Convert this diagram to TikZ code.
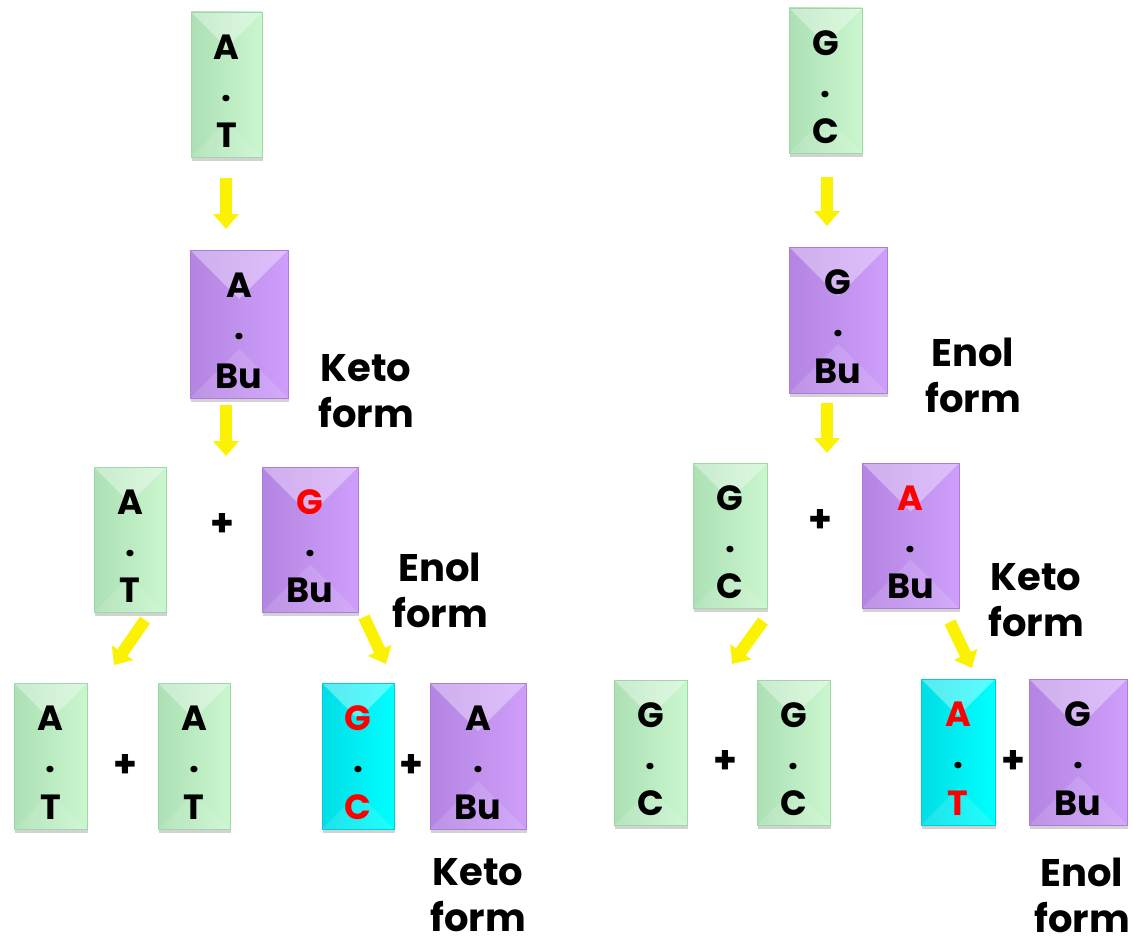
\documentclass[tikz,border=0pt]{standalone}
\usepackage{fontspec}
\setmainfont{Poppins}
\usetikzlibrary{calc,shadows,arrows.meta}
\definecolor{gL}{RGB}{172,224,180}
\definecolor{gR}{RGB}{202,246,206}
\definecolor{gB}{RGB}{160,214,168}
\definecolor{pL}{RGB}{180,132,226}
\definecolor{pR}{RGB}{206,158,250}
\definecolor{pB}{RGB}{172,124,216}
\definecolor{cL}{RGB}{0,222,230}
\definecolor{cR}{RGB}{0,255,255}
\definecolor{cB}{RGB}{0,205,215}
\definecolor{yel}{RGB}{250,242,0}
\definecolor{red1}{RGB}{255,0,0}
\tikzset{
  basebox/.style={inner sep=0pt, line width=0.8pt,
    drop shadow={shadow xshift=1pt, shadow yshift=-4pt, opacity=0.35},
    path picture={
      \fill[white,opacity=0.35] (path picture bounding box.north west) -- (path picture bounding box.north east)
        -- ($(path picture bounding box.north west)!0.7071!-45:(path picture bounding box.north east)$) -- cycle;
      \fill[white,opacity=0.12] (path picture bounding box.south west) -- (path picture bounding box.south east)
        -- ($(path picture bounding box.south west)!0.7071!45:(path picture bounding box.south east)$) -- cycle;
    }},
  greenbox/.style={basebox, draw=gB, left color=gL, right color=gR},
  purplebox/.style={basebox, draw=pB, left color=pL, right color=pR},
  cyanbox/.style={basebox, draw=cB, left color=cL, right color=cR},
  boxtxt/.style={inner sep=0pt, font=\fontsize{35}{40}\selectfont\bfseries},
  plus/.style={inner sep=0pt, font=\fontsize{38}{42}\selectfont\bfseries},
  lbl/.style={inner sep=0pt, align=center, font=\fontsize{38.5}{46}\selectfont\bfseries},
  yarrow/.style={line width=12pt, draw=yel, -{Triangle[length=15pt,width=25pt]}},
}
\newcommand\dnabox[8]{%
  \node[#2, minimum width={(#5-#3)*1pt}, minimum height={(#6-#4)*1pt}] (#1) at ({(#3+#5)/2},{(#4+#6)/2}) {};
  \node[boxtxt] (#1t) at ($(#1.north)+(0,36)$) {#7};
  \node[boxtxt] (#1d) at ($(#1.north)+(0,87)$) {.};
  \node[boxtxt] (#1b) at ($(#1.south)+(0,-22)$) {#8};
}
\begin{document}
\begin{tikzpicture}[x=1pt,y=-1pt]
\fill[white] (0,0) rectangle (1133,947);
\useasboundingbox (0,0) rectangle (1133,947);
% left tree
\dnabox{b1}{greenbox}{191}{12}{262}{157}{A}{T}
\dnabox{b2}{purplebox}{190}{250}{288}{398}{A}{Bu}
\dnabox{b3}{greenbox}{94}{467}{166}{612}{A}{T}
\dnabox{b4}{purplebox}{262}{467}{358}{612}{\textcolor{red1}{G}}{Bu}
\dnabox{b5}{greenbox}{14}{683}{87}{829}{A}{T}
\dnabox{b6}{greenbox}{158}{683}{230}{829}{A}{T}
\dnabox{b7}{cyanbox}{322}{683}{394}{829}{\textcolor{red1}{G}}{\textcolor{red1}{C}}
\dnabox{b8}{purplebox}{430}{683}{526}{829}{A}{Bu}
% right tree
\dnabox{b9}{greenbox}{789}{8}{862}{153}{G}{C}
\dnabox{b10}{purplebox}{789}{247}{887}{393}{G}{Bu}
\dnabox{b11}{greenbox}{693}{463}{767}{608}{G}{C}
\dnabox{b12}{purplebox}{862}{463}{959}{608}{\textcolor{red1}{A}}{Bu}
\dnabox{b13}{greenbox}{614}{680}{687}{825}{G}{C}
\dnabox{b14}{greenbox}{757}{680}{830}{825}{G}{C}
\dnabox{b15}{cyanbox}{921}{679}{995}{825}{\textcolor{red1}{A}}{\textcolor{red1}{T}}
\dnabox{b16}{purplebox}{1029}{679}{1127}{825}{G}{Bu}
% plus signs
\node[plus] (p1) at (222,525) {+};
\node[plus] (p2) at (125,766) {+};
\node[plus] (p3) at (411,766) {+};
\node[plus] (p4) at (820,521) {+};
\node[plus] (p5) at (725,762) {+};
\node[plus] (p6) at (1013,762) {+};
% labels
\node[lbl] (k1) at (366,391) {Keto\\form};
\node[lbl] (e1) at (440,590) {Enol\\form};
\node[lbl] (k2) at (478,895) {Keto\\form};
\node[lbl] (e2) at (973,375) {Enol\\form};
\node[lbl] (k3) at (1036,600) {Keto\\form};
\node[lbl] (e3) at (1082,895) {Enol\\form};
% arrow end points
\coordinate (l1s) at (226,178);
\coordinate (l1e) at (226,229);
\coordinate (l2s) at (226,405);
\coordinate (l2e) at (226,456);
\coordinate (l3s) at (145,620);
\coordinate (l3e) at (114,665);
\coordinate (l4s) at (364,617);
\coordinate (l4e) at (386,664);
\coordinate (r1s) at (827,177);
\coordinate (r1e) at (827,226);
\coordinate (r2s) at (827,403);
\coordinate (r2e) at (827,453);
\coordinate (r3s) at (763,621);
\coordinate (r3e) at (732,664);
\coordinate (r4s) at (950,622);
\coordinate (r4e) at (972,668);
\draw[yarrow] (l1s) -- (l1e);
\draw[yarrow] (l2s) -- (l2e);
\draw[yarrow] (l3s) -- (l3e);
\draw[yarrow] (l4s) -- (l4e);
\draw[yarrow] (r1s) -- (r1e);
\draw[yarrow] (r2s) -- (r2e);
\draw[yarrow] (r3s) -- (r3e);
\draw[yarrow] (r4s) -- (r4e);
\end{tikzpicture}
\end{document}
